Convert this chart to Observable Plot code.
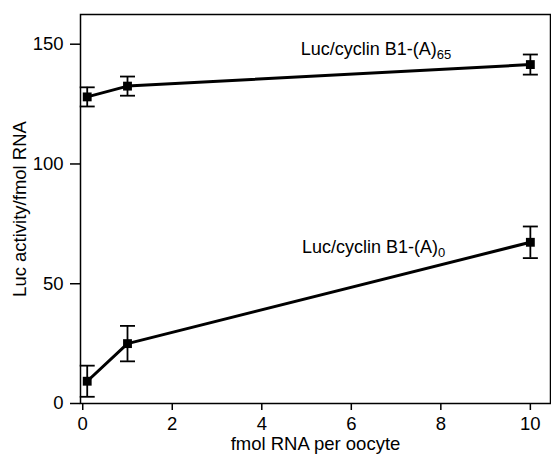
<!DOCTYPE html>
<html>
<head>
<meta charset="utf-8">
<script src="https://cdn.jsdelivr.net/npm/d3@7"></script>
<script src="https://cdn.jsdelivr.net/npm/@observablehq/plot@0.6"></script>
<style>
  body { margin: 0; background: #fff; }
  #chart svg { display: block; }
</style>
</head>
<body>
<div id="chart"></div>
<script>
// ---- data ----
const xValues = [0.1, 1, 10];                 // fmol RNA per oocyte
const a65Mean = [128, 132.5, 141.5];          // Luc/cyclin B1-(A)65
const a65Err  = [4, 4, 4.2];
const a0Mean  = [9.3, 25, 67.3];              // Luc/cyclin B1-(A)0
const a0Err   = [6.5, 7.4, 6.6];
const seriesNames = ["A65", "A0"];
const seriesLabels = [
  {main: "Luc/cyclin B1-(A)", sub: "65", x: 4.87, y: 145.3},
  {main: "Luc/cyclin B1-(A)", sub: "0",  x: 4.9,  y: 62.9}
];
const xTicks = [0, 2, 4, 6, 8, 10];
const yTicks = [0, 50, 100, 150];
const xTitle = "fmol RNA per oocyte";
const yTitle = "Luc activity/fmol RNA";

// ---- table built from arrays ----
const rows = [];
xValues.forEach((x, i) => {
  rows.push({series: seriesNames[0], x, y: a65Mean[i], lo: a65Mean[i] - a65Err[i], hi: a65Mean[i] + a65Err[i]});
});
xValues.forEach((x, i) => {
  rows.push({series: seriesNames[1], x, y: a0Mean[i], lo: a0Mean[i] - a0Err[i], hi: a0Mean[i] + a0Err[i]});
});

// horizontal cap symbol for error bars
const capSymbol = {draw(ctx) { ctx.moveTo(-7.5, 0); ctx.lineTo(7.5, 0); }};

const font = "'Liberation Sans', Arial, Helvetica, sans-serif";
const fs = 18.5;

const plot = Plot.plot({
  width: 551,
  height: 462,
  marginLeft: 80,
  marginRight: 1,
  marginTop: 14,
  marginBottom: 59,
  style: {fontFamily: font, fontSize: fs + "px", color: "#000", background: "#fff"},
  x: {domain: [-0.05, 10.45]},
  y: {domain: [0, 162.4]},
  marks: [
    Plot.frame({stroke: "#000", strokeWidth: 1.5}),
    Plot.axisX({ticks: xTicks, tickSize: 7, tickPadding: 6, fontSize: fs, label: null, stroke: "#000", strokeWidth: 1.5}),
    Plot.axisY({ticks: yTicks, tickSize: 10, tickPadding: 7, fontSize: fs, label: null, stroke: "#000", strokeWidth: 1.5}),
    Plot.ruleX(rows, {x: "x", y1: "lo", y2: "hi", stroke: "#000", strokeWidth: 1.8}),
    Plot.dot(rows, {x: "x", y: "lo", symbol: capSymbol, stroke: "#000", strokeWidth: 1.8, r: 5}),
    Plot.dot(rows, {x: "x", y: "hi", symbol: capSymbol, stroke: "#000", strokeWidth: 1.8, r: 5}),
    Plot.line(rows, {x: "x", y: "y", z: "series", stroke: "#000", strokeWidth: 3}),
    Plot.dot(rows, {x: "x", y: "y", symbol: "square", fill: "#000", stroke: "none", r: 5}),
    Plot.text(seriesLabels, {x: "x", y: "y", text: "main", textAnchor: "start", lineAnchor: "bottom",
      fontSize: 18, fill: "#000", className: "series-label"}),
    Plot.text([xTitle], {frameAnchor: "bottom", dy: 46, lineAnchor: "bottom", textAnchor: "middle", fontSize: fs, fill: "#000"}),
    Plot.text([yTitle], {frameAnchor: "left", dx: -60, rotate: -90, lineAnchor: "middle", textAnchor: "middle", fontSize: fs, fill: "#000"})
  ]
});

// add subscripts as real tspans
d3.select(plot).selectAll(".series-label text").each(function(d, i) {
  const lab = seriesLabels[i];
  const t = d3.select(this);
  t.text(null);
  t.append("tspan").text(lab.main);
  t.append("tspan").attr("font-size", 13).attr("dy", 4).text(lab.sub);
});

document.getElementById("chart").appendChild(plot);
</script>
</body>
</html>
